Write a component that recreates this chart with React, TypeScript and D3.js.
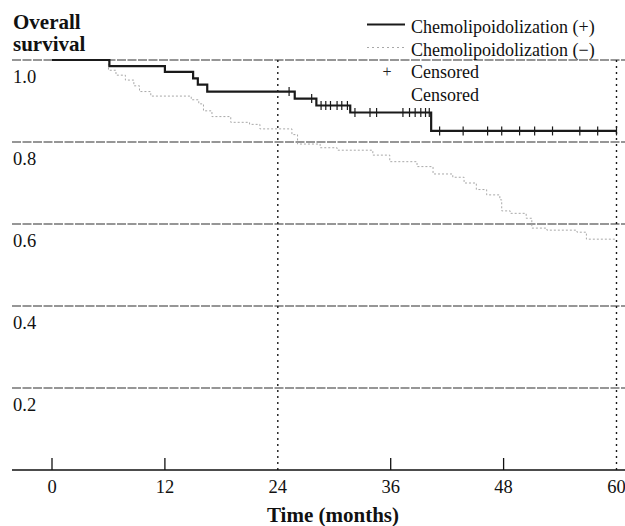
import React from "react";
import * as d3 from "d3";

// ---- Data ----
const xTicks = [0, 12, 24, 36, 48, 60];
const yTicks = [0.2, 0.4, 0.6, 0.8, 1.0];
const verticalRefs = [24, 60];

// Chemolipoidolization (+): step times (months) and survival after the step
const posTimes = [0, 6.1, 12.0, 15.0, 15.5, 16.5, 25.8, 28.1, 31.7, 40.3, 60];
const posSurv = [1.0, 0.985, 0.971, 0.955, 0.94, 0.923, 0.906, 0.889, 0.872, 0.827, 0.827];
const posCensored = [
  25.2, 27.6, 28.6, 29.1, 29.6, 30.3, 30.8, 31.4, 32.2, 33.8, 34.5, 37.3, 38.0,
  38.6, 39.2, 39.7, 40.1, 41.2, 43.7, 46.3, 47.8, 49.7, 51.3, 53.2, 56.1, 58.0, 60.0,
];

// Chemolipoidolization (−)
const negTimes = [
  0, 6.0, 6.8, 7.8, 8.7, 9.3, 10.5, 14.8, 15.6, 16.1, 17.0, 19.0, 21.0, 22.1, 25.5,
  26.1, 28.5, 30.3, 34.1, 35.9, 38.8, 40.5, 42.6, 43.8, 45.1, 46.2, 47.6, 47.8, 48.7,
  50.4, 51.0, 52.6, 55.8, 56.8, 60,
];
const negSurv = [
  1.0, 0.975, 0.963, 0.951, 0.937, 0.923, 0.912, 0.903, 0.893, 0.876, 0.862, 0.848,
  0.843, 0.832, 0.818, 0.795, 0.786, 0.78, 0.768, 0.752, 0.74, 0.722, 0.714, 0.7,
  0.684, 0.671, 0.659, 0.632, 0.626, 0.614, 0.59, 0.585, 0.58, 0.563, 0.563,
];

const legendLabels = [
  "Chemolipoidolization (+)",
  "Chemolipoidolization (\u2212)",
  "Censored",
  "Censored",
];

const W = 625;
const H = 526;

export default function App() {
  const x = d3.scaleLinear().domain([0, 60]).range([52, 616.5]);
  const y = d3.scaleLinear().domain([0, 1]).range([470, 60]);

  const line = d3
    .line<[number, number]>()
    .x((d) => x(d[0]))
    .y((d) => y(d[1]))
    .curve(d3.curveStepAfter);

  const posData: [number, number][] = posTimes.map((t, i) => [t, posSurv[i]]);
  const negData: [number, number][] = negTimes.map((t, i) => [t, negSurv[i]]);

  const survAt = (t: number) => {
    let s = posSurv[0];
    for (let i = 0; i < posTimes.length; i++) if (posTimes[i] <= t) s = posSurv[i];
    return s;
  };

  const serif = "'Liberation Serif', 'Times New Roman', serif";

  return (
    <svg
      width={W}
      height={H}
      style={{ position: "absolute", left: 0, top: 0, background: "#fff" }}
      fontFamily={serif}
    >
      {/* horizontal grid lines */}
      {[...yTicks].map((v) => (
        <line
          key={"g" + v}
          x1={12}
          x2={625}
          y1={y(v)}
          y2={y(v)}
          stroke="#2e2e2e"
          strokeWidth={1.2}
          strokeDasharray="9,1.5"
        />
      ))}
      {/* y tick labels */}
      {yTicks.map((v) => (
        <text key={"yl" + v} x={13} y={y(v) + 22.5} fontSize={18.5} fill="#111">
          {v.toFixed(1)}
        </text>
      ))}

      {/* dotted vertical reference lines */}
      {verticalRefs.map((t) => (
        <line
          key={"v" + t}
          x1={x(t)}
          x2={x(t)}
          y1={y(1)}
          y2={y(0)}
          stroke="#1a1a1a"
          strokeWidth={1.4}
          strokeDasharray="2,4"
        />
      ))}

      {/* x axis */}
      <line x1={12} x2={625} y1={y(0)} y2={y(0)} stroke="#111" strokeWidth={1.5} />
      {xTicks
        .filter((t) => !verticalRefs.includes(t))
        .map((t) => (
          <line key={"xt" + t} x1={x(t)} x2={x(t)} y1={y(0) - 12} y2={y(0)} stroke="#111" strokeWidth={1.3} />
        ))}
      {xTicks.map((t) => (
        <text key={"xl" + t} x={x(t)} y={493} fontSize={18.5} textAnchor="middle" fill="#111">
          {t}
        </text>
      ))}
      <text x={333} y={522} fontSize={21} fontWeight="bold" textAnchor="middle" fill="#111">
        Time (months)
      </text>

      {/* y title */}
      <text x={13} y={29} fontSize={21} fontWeight="bold" fill="#111">
        Overall
      </text>
      <text x={13} y={51} fontSize={21} fontWeight="bold" fill="#111">
        survival
      </text>

      {/* curves */}
      <path d={line(negData) || ""} fill="none" stroke="#a8a8a8" strokeWidth={1} strokeDasharray="2,2" />
      <path d={line(posData) || ""} fill="none" stroke="#1a1a1a" strokeWidth={2.2} />
      {posCensored.map((t, i) => (
        <line
          key={"c" + i}
          x1={x(t)}
          x2={x(t)}
          y1={y(survAt(t)) - 4.5}
          y2={y(survAt(t)) + 4.5}
          stroke="#1a1a1a"
          strokeWidth={1.2}
        />
      ))}

      {/* legend */}
      <line x1={367} x2={405} y1={24.5} y2={24.5} stroke="#1a1a1a" strokeWidth={2.2} />
      <line x1={367} x2={405} y1={47.5} y2={47.5} stroke="#a8a8a8" strokeWidth={1} strokeDasharray="2,3" />
      <text x={387} y={77} fontSize={16} textAnchor="middle" fill="#222">+</text>
      {legendLabels.map((l, i) => (
        <text key={"lg" + i} x={411} y={33 + i * 22.7} fontSize={18} fill="#111">
          {l}
        </text>
      ))}
    </svg>
  );
}
